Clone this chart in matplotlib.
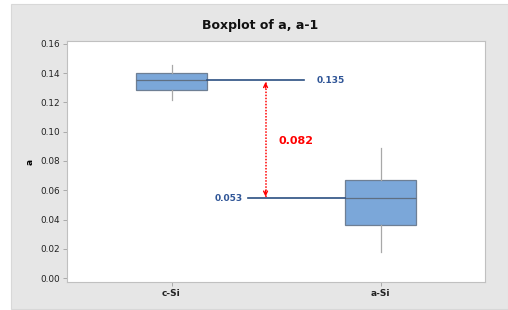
import matplotlib
matplotlib.use("Agg")
import matplotlib.pyplot as plt
from matplotlib.patches import Rectangle

categories = ["c-Si", "a-Si"]
whislo = [0.1217, 0.0180]
q1 = [0.1283, 0.0365]
med = [0.1351, 0.0545]
q3 = [0.1404, 0.0668]
whishi = [0.1456, 0.0887]
yticks = [0.00, 0.02, 0.04, 0.06, 0.08, 0.10, 0.12, 0.14, 0.16]
label_hi = "0.135"
label_lo = "0.053"
label_diff = "0.082"

fig = plt.figure(figsize=(5.08, 3.10), dpi=100)
fig.patch.set_facecolor("white")
fig.patches.append(Rectangle((11/508, 1 - 309/310), 497/508, 305/310,
                             transform=fig.transFigure, facecolor="#e6e6e6",
                             edgecolor="#d8d8d8", lw=0.8, zorder=-10))

ax = fig.add_axes([67/508, 1 - 282/310, (485-67)/508, (282-41)/310])
ax.set_facecolor("white")

stats = []
for i, c in enumerate(categories):
    stats.append(dict(label=c, whislo=whislo[i], q1=q1[i], med=med[i],
                      q3=q3[i], whishi=whishi[i], fliers=[]))
ax.bxp(stats, positions=[1, 2], widths=0.335, patch_artist=True,
       showcaps=False,
       boxprops=dict(facecolor="#7ba7d9", edgecolor="#6e7f94", lw=0.9),
       medianprops=dict(color="#5f6f82", lw=0.9),
       whiskerprops=dict(color="#a8a8a8", lw=0.9))

ax.set_xlim(0.5, 2.5)
ax.set_ylim(-0.0027, 0.162)
ax.set_yticks(yticks)
ax.set_yticklabels([f"{v:.2f}" for v in yticks], fontsize=6.4, color="#222222")
ax.set_xticks([1, 2])
ax.set_xticklabels(categories, fontsize=6.5, fontweight="bold", color="#222222")
ax.tick_params(axis="both", length=3, width=0.6, color="#a0a0a0", pad=2)

for s in ["top", "right", "left", "bottom"]:
    ax.spines[s].set_color("#c0c0c0")
    ax.spines[s].set_linewidth(0.8)

# reference lines
line_col = "#2b4f82"
ax.plot([1 + 0.335/2, 1.632], [med[0], med[0]], color=line_col, lw=1.2, zorder=3)
ax.plot([1.364, 2 - 0.335/2], [med[1], med[1]], color=line_col, lw=1.2, zorder=3)
ax.text(1.695, med[0], label_hi, fontsize=6.5, fontweight="bold",
        color="#2f5597", va="center", ha="left")
ax.text(1.342, med[1], label_lo, fontsize=6.5, fontweight="bold",
        color="#2f5597", va="center", ha="right")

# red dotted double arrow
x_arr = 1.45
top = med[0] - 0.0012
bot = med[1] + 0.0012
ax.plot([x_arr, x_arr], [bot, top], color="red", lw=1.1, linestyle=(0, (1, 1)), zorder=4)
ax.annotate("", xy=(x_arr, top), xytext=(x_arr, top - 0.004),
            arrowprops=dict(arrowstyle="->", color="red", lw=1.0,
                            mutation_scale=7, shrinkA=0, shrinkB=0))
ax.annotate("", xy=(x_arr, bot), xytext=(x_arr, bot + 0.004),
            arrowprops=dict(arrowstyle="->", color="red", lw=1.0,
                            mutation_scale=7, shrinkA=0, shrinkB=0))
ax.text(1.51, 0.0937, label_diff, fontsize=8, fontweight="bold",
        color="red", va="center", ha="left")

ax.set_ylabel("a", fontsize=6.5, fontweight="bold", labelpad=4)
fig.text(260/508, 1 - 25/310, "Boxplot of a, a-1", fontsize=9,
         fontweight="bold", ha="center", va="center", color="#111111")

fig.savefig("out.png", dpi=100)
